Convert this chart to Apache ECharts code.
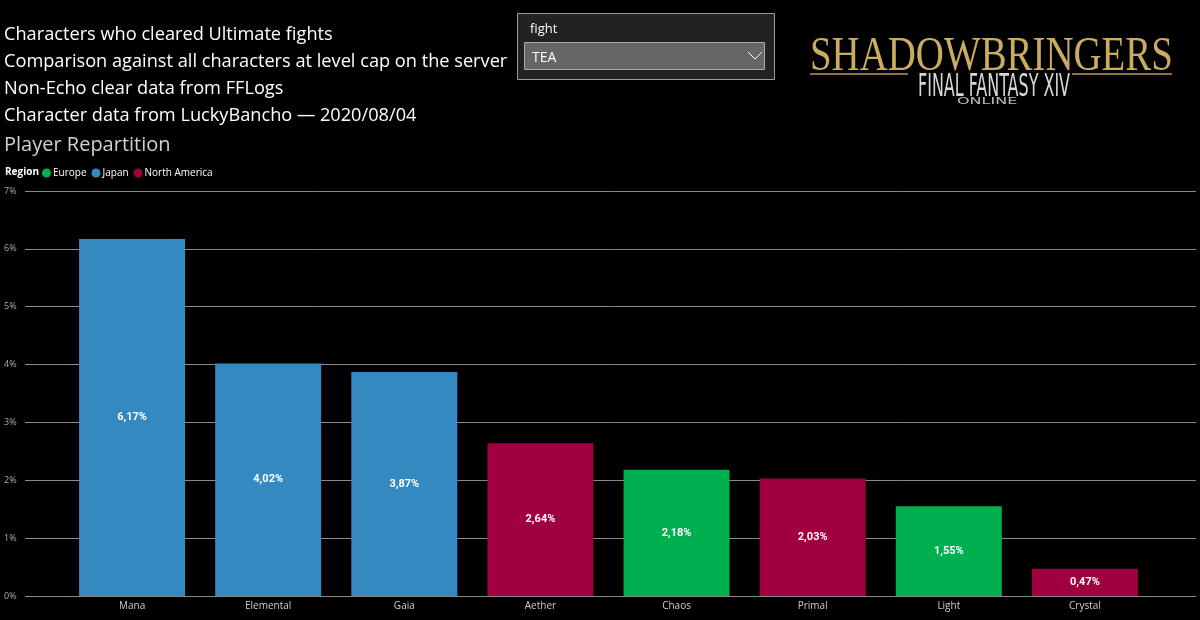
<!DOCTYPE html>
<html>
<head>
<meta charset="utf-8">
<script src="https://cdn.jsdelivr.net/npm/echarts@6/dist/echarts.min.js"></script>
<style>html,body{margin:0;padding:0;background:#000;}#c{width:1200px;height:620px;}</style>
</head>
<body>
<div id="c"></div>
<script>
const categories = ['Mana', 'Elemental', 'Gaia', 'Aether', 'Chaos', 'Primal', 'Light', 'Crystal'];
const values = [6.17, 4.02, 3.87, 2.64, 2.18, 2.03, 1.55, 0.47];
const regions = ['Japan', 'Japan', 'Japan', 'North America', 'Europe', 'North America', 'Europe', 'North America'];
const regionNames = ['Europe', 'Japan', 'North America'];
const regionColors = { 'Europe': '#00B050', 'Japan': '#3489C1', 'North America': '#A0003F' };
const titleLines = [
  'Characters who cleared Ultimate fights',
  'Comparison against all characters at level cap on the server',
  'Non-Echo clear data from FFLogs',
  'Character data from LuckyBancho \u2014 2020/08/04'
];

const chart = echarts.init(document.getElementById('c'));
const font = '"Open Sans", "Noto Sans", sans-serif';

const series = regionNames.map(r => ({
  name: r,
  type: 'bar',
  xAxisIndex: 1,
  yAxisIndex: 1,
  stack: 'all',
  barWidth: 106,
  itemStyle: { color: regionColors[r] },
  label: {
    show: true,
    position: 'inside',
    color: '#fff',
    fontSize: 11,
    fontWeight: 'bold',
    fontFamily: 'Roboto, sans-serif',
    formatter: p => p.value == null ? '' : p.value.toFixed(2).replace('.', ',') + '%'
  },
  data: values.map((v, i) => regions[i] === r ? v : null)
}));

const graphics = [];
titleLines.forEach((t, i) => {
  graphics.push({ type: 'text', left: 4, top: 26 + i * 27, style: { text: t, fill: '#fff', font: '18.2px ' + font } });
});
graphics.push({ type: 'text', left: 4, top: 135, style: { text: 'Player Repartition', fill: '#d0d0d0', font: '20px ' + font } });
// slicer
graphics.push({ type: 'rect', shape: { x: 517.5, y: 13.5, width: 257, height: 66 }, style: { fill: '#222', stroke: '#9a9a9a', lineWidth: 1 } });
graphics.push({ type: 'text', left: 530, top: 23, style: { text: 'fight', fill: '#fff', font: '13px ' + font } });
graphics.push({ type: 'rect', shape: { x: 524.5, y: 42.5, width: 240, height: 27 }, style: { fill: '#666', stroke: '#aaa', lineWidth: 1 } });
graphics.push({ type: 'text', left: 532, top: 51, style: { text: 'TEA', fill: '#fff', font: '14px ' + font } });
graphics.push({ type: 'polyline', shape: { points: [[748, 52], [755, 59], [762, 52]] }, style: { stroke: '#fff', lineWidth: 1, fill: null } });
// logo
graphics.push({ type: 'text', x: 810, y: 33, scaleX: 0.81, style: { text: 'SHADOWBRINGERS', font: '48px "Liberation Serif", serif', fill: '#c9ab62' } });
graphics.push({ type: 'line', shape: { x1: 810, y1: 74, x2: 908, y2: 74 }, style: { stroke: '#b59a5a', lineWidth: 1.5 } });
graphics.push({ type: 'line', shape: { x1: 1072, y1: 74, x2: 1172, y2: 74 }, style: { stroke: '#b59a5a', lineWidth: 1.5 } });
graphics.push({ type: 'text', x: 918, y: 72, scaleX: 0.555, style: { text: 'FINAL FANTASY XIV', font: '32px "DejaVu Sans Condensed", sans-serif', fill: '#d8d8d8' } });
graphics.push({ type: 'text', x: 957, y: 98, scaleX: 2, style: { text: 'ONLINE', font: '8px "DejaVu Sans", sans-serif', fill: '#bbb' } });
graphics.push({ type: 'text', left: 5, top: 167, style: { text: 'Region', fill: '#fff', font: 'bold 10px ' + font } });

chart.setOption({
  backgroundColor: '#000',
  animation: false,
  legend: {
    left: 37, top: 163,
    icon: 'circle', itemWidth: 9, itemHeight: 9, itemGap: 5,
    textStyle: { color: '#fff', fontSize: 10, fontFamily: font, padding: [0, 0, 0, -3] },
    data: regionNames
  },
  grid: [
    { left: 25, right: 4, top: 191, bottom: 24 },
    { left: 64, right: 47, top: 191, bottom: 24 }
  ],
  xAxis: [
    { gridIndex: 0, type: 'value', min: 0, max: 1, show: false },
    { gridIndex: 1, type: 'category', data: categories,
      axisLine: { show: false }, axisTick: { show: false },
      axisLabel: { color: '#ccc', fontSize: 10, fontFamily: font, margin: 5 } }
  ],
  yAxis: [
    { gridIndex: 0, type: 'value', min: 0, max: 7, interval: 1,
      axisLine: { show: false }, axisTick: { show: false },
      splitLine: { lineStyle: { color: '#8a8a8a', width: 1 } },
      axisLabel: { color: '#aaa', fontSize: 9, fontFamily: font, align: 'left', margin: 21, formatter: v => v + '%' } },
    { gridIndex: 1, type: 'value', min: 0, max: 7, interval: 1, show: false, splitLine: { show: false } }
  ],
  graphic: graphics,
  series: series
});
</script>
</body>
</html>
